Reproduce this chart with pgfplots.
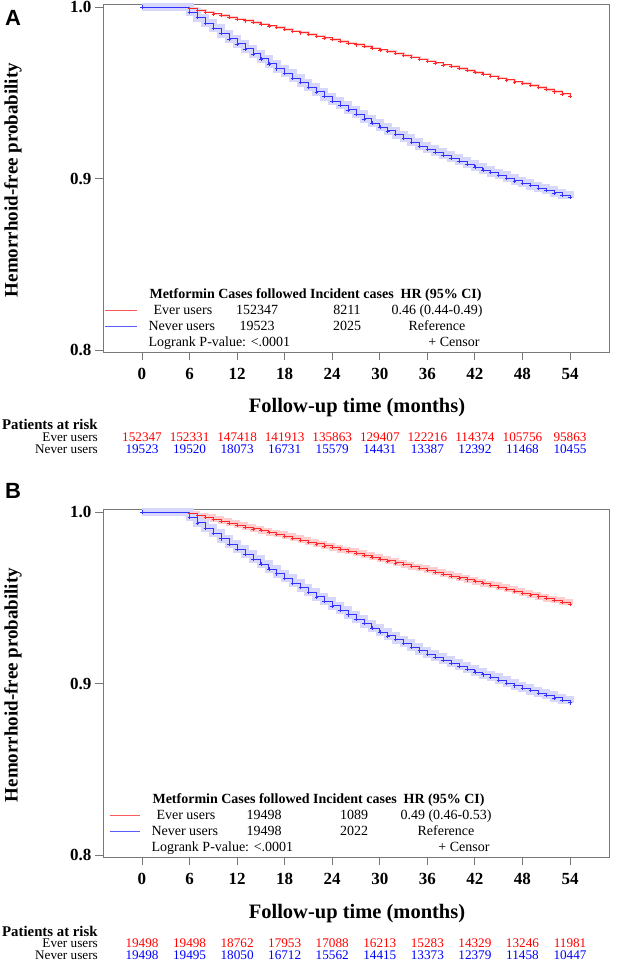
\documentclass[border=0pt]{standalone}
\usepackage{pgfplots}
\pgfplotsset{compat=1.18}
\usepackage{pgfplotstable}
\usepackage{fontspec}
\setmainfont{Liberation Serif}
\newfontfamily\arialfont{Liberation Sans}

\definecolor{kmred}{RGB}{255,40,40}
\definecolor{kmblue}{RGB}{50,50,255}
\definecolor{bandred}{RGB}{255,205,205}
\definecolor{bandblue}{RGB}{215,215,252}
\definecolor{legred}{RGB}{255,90,90}
\definecolor{legblue}{RGB}{90,90,255}
\definecolor{framegray}{RGB}{120,120,120}

\pgfplotstableread{
x y
0 1.0000
6 0.9990
7 0.9980
8 0.9970
9 0.9960
10 0.9950
11 0.9940
12 0.9930
13 0.9920
14 0.9910
15 0.9900
16 0.9890
17 0.9880
18 0.9870
19 0.9860
20 0.9850
21 0.9840
22 0.9830
23 0.9820
24 0.9810
25 0.9800
26 0.9790
27 0.9780
28 0.9770
29 0.9760
30 0.9750
31 0.9740
32 0.9729
33 0.9718
34 0.9707
35 0.9696
36 0.9685
37 0.9674
38 0.9663
39 0.9652
40 0.9641
41 0.9630
42 0.9619
43 0.9608
44 0.9597
45 0.9586
46 0.9575
47 0.9564
48 0.9553
49 0.9542
50 0.9530
51 0.9518
52 0.9506
53 0.9494
54 0.9482
}\redA

\pgfplotstableread{
x y
0 1.0000
6 0.9969
7 0.9938
8 0.9907
9 0.9876
10 0.9845
11 0.9814
12 0.9785
13 0.9756
14 0.9727
15 0.9698
16 0.9669
17 0.9640
18 0.9613
19 0.9586
20 0.9559
21 0.9532
22 0.9505
23 0.9478
24 0.9452
25 0.9426
26 0.9400
27 0.9374
28 0.9348
29 0.9322
30 0.9300
31 0.9278
32 0.9256
33 0.9234
34 0.9212
35 0.9190
36 0.9172
37 0.9154
38 0.9136
39 0.9118
40 0.9100
41 0.9082
42 0.9066
43 0.9050
44 0.9034
45 0.9018
46 0.9002
47 0.8986
48 0.8972
49 0.8958
50 0.8944
51 0.8930
52 0.8916
53 0.8902
54 0.8888
}\blueA

\pgfplotstableread{
x y
0 1.0000
6 0.9990
7 0.9979
8 0.9968
9 0.9957
10 0.9946
11 0.9935
12 0.9924
13 0.9913
14 0.9902
15 0.9891
16 0.9880
17 0.9869
18 0.9858
19 0.9847
20 0.9836
21 0.9825
22 0.9814
23 0.9803
24 0.9792
25 0.9781
26 0.9770
27 0.9759
28 0.9748
29 0.9737
30 0.9726
31 0.9715
32 0.9704
33 0.9693
34 0.9682
35 0.9671
36 0.9660
37 0.9649
38 0.9638
39 0.9627
40 0.9616
41 0.9605
42 0.9594
43 0.9583
44 0.9572
45 0.9561
46 0.9550
47 0.9539
48 0.9528
49 0.9517
50 0.9506
51 0.9495
52 0.9484
53 0.9473
54 0.9462
}\redB

\pgfplotstableread{
x y
0 1.0000
6 0.9968
7 0.9937
8 0.9906
9 0.9875
10 0.9844
11 0.9813
12 0.9784
13 0.9755
14 0.9726
15 0.9697
16 0.9668
17 0.9640
18 0.9613
19 0.9586
20 0.9559
21 0.9532
22 0.9505
23 0.9479
24 0.9453
25 0.9427
26 0.9401
27 0.9375
28 0.9349
29 0.9323
30 0.9300
31 0.9278
32 0.9256
33 0.9234
34 0.9212
35 0.9191
36 0.9172
37 0.9154
38 0.9136
39 0.9118
40 0.9100
41 0.9083
42 0.9067
43 0.9051
44 0.9035
45 0.9019
46 0.9003
47 0.8987
48 0.8972
49 0.8958
50 0.8944
51 0.8930
52 0.8916
53 0.8902
54 0.8888
}\blueB

\pgfplotsset{
  kmaxis/.style={
    scale only axis, width=506pt, height=348pt,
    xmin=-4.92, xmax=58.92, ymin=0.79883, ymax=1.00175,
    xtick={0,6,12,18,24,30,36,42,48,54},
    ytick={0.8,0.9,1.0}, yticklabels={0.8,0.9,1.0},
    tick align=outside, tick pos=left, major tick length=8pt,
    axis line style={draw=framegray, line width=0.9pt},
    tick style={draw=framegray, line width=0.9pt},
    ticklabel style={font=\fontsize{17}{17}\selectfont\bfseries},
    /pgf/number format/assume math mode=true,
    xticklabel style={yshift=-5pt},
  },
  kmline/.style={const plot, line width=0.8pt, mark=+, mark size=1.8pt, mark options={solid, line width=0.5pt}},
  kmband/.style={const plot, line cap=butt, line join=miter, no marks},
}

\newcommand{\lfont}{\fontsize{14}{14}\selectfont}
\newcommand{\rfont}{\fontsize{13.2}{13.2}\selectfont}

\begin{document}
\begin{tikzpicture}[x=1pt,y=1pt]
\useasboundingbox (0,0) rectangle (625,963);

% ---------------- Panel A ----------------
\begin{axis}[kmaxis, at={(103pt,611pt)}, anchor=south west]
\addplot[bandred, kmband, line width=2.5pt] table[x=x,y=y]{\redA};
\addplot[bandblue, kmband, line width=8pt] table[x=x,y=y]{\blueA};
\addplot[kmred, kmline] table[x=x,y=y]{\redA};
\addplot[kmblue, kmline] table[x=x,y=y]{\blueA};
\end{axis}

\node[font=\arialfont\bfseries\fontsize{22}{22}\selectfont] at (13,945) {A};
\node[rotate=90, font=\fontsize{19}{19}\selectfont\bfseries] at (13,783) {Hemorrhoid-free probability};
\node[font=\fontsize{20.5}{20.5}\selectfont\bfseries] at (357,555) {Follow-up time (months)};

% legend A
\draw[legred, line width=1pt] (105,652) -- (137,652);
\draw[legblue, line width=1pt] (105,636) -- (137,636);
\begin{scope}[font=\lfont]
\node[anchor=base west, font=\lfont\bfseries] at (146,664) {Metformin Cases followed Incident cases\ \ HR (95\% CI)};
\node[anchor=base west] at (150,648) {Ever users};
\node[anchor=base west] at (145,632) {Never users};
\node[anchor=base west] at (145,616) {Logrank P-value: <.0001};
\node[anchor=base] at (257,648) {152347};
\node[anchor=base] at (257,632) {19523};
\node[anchor=base] at (347,648) {8211};
\node[anchor=base] at (347,632) {2025};
\node[anchor=base] at (437,648) {0.46 (0.44-0.49)};
\node[anchor=base] at (437,632) {Reference};
\node[anchor=base east] at (483,616) {+ Censor};
\end{scope}

% at risk A
\begin{scope}[inner sep=0pt]
\node[anchor=base west, font=\fontsize{14.8}{14.8}\selectfont\bfseries] at (2,533) {Patients at risk};
\node[anchor=base east, font=\rfont] at (98,521) {Ever users};
\node[anchor=base east, font=\rfont] at (98,509.5) {Never users};
\foreach \xx/\nn in {0/152347,1/152331,2/147418,3/141913,4/135863,5/129407,6/122216,7/114374,8/105756,9/95863}
  \node[anchor=base, text=red, font=\rfont] at (142+47.56*\xx,521) {\nn};
\foreach \xx/\nn in {0/19523,1/19520,2/18073,3/16731,4/15579,5/14431,6/13387,7/12392,8/11468,9/10455}
  \node[anchor=base, text=blue, font=\rfont] at (142+47.56*\xx,509.5) {\nn};
\end{scope}

% ---------------- Panel B ----------------
\begin{axis}[kmaxis, at={(103pt,106pt)}, anchor=south west]
\addplot[bandred, kmband, line width=6pt] table[x=x,y=y]{\redB};
\addplot[bandblue, kmband, line width=8pt] table[x=x,y=y]{\blueB};
\addplot[kmred, kmline] table[x=x,y=y]{\redB};
\addplot[kmblue, kmline] table[x=x,y=y]{\blueB};
\end{axis}

\node[font=\arialfont\bfseries\fontsize{22}{22}\selectfont] at (13,472) {B};
\node[rotate=90, font=\fontsize{19}{19}\selectfont\bfseries] at (13,278) {Hemorrhoid-free probability};
\node[font=\fontsize{20.5}{20.5}\selectfont\bfseries] at (357,49) {Follow-up time (months)};

% legend B
\draw[legred, line width=1pt] (110,147) -- (140,147);
\draw[legblue, line width=1pt] (110,131) -- (140,131);
\begin{scope}[font=\lfont]
\node[anchor=base west, font=\lfont\bfseries] at (149,159) {Metformin Cases followed Incident cases\ \ HR (95\% CI)};
\node[anchor=base west] at (153,143) {Ever users};
\node[anchor=base west] at (148,127) {Never users};
\node[anchor=base west] at (148,111) {Logrank P-value: <.0001};
\node[anchor=base] at (264,143) {19498};
\node[anchor=base] at (264,127) {19498};
\node[anchor=base] at (354,143) {1089};
\node[anchor=base] at (354,127) {2022};
\node[anchor=base] at (446,143) {0.49 (0.46-0.53)};
\node[anchor=base] at (446,127) {Reference};
\node[anchor=base east] at (493,111) {+ Censor};
\end{scope}

% at risk B
\begin{scope}[inner sep=0pt]
\node[anchor=base west, font=\fontsize{14.8}{14.8}\selectfont\bfseries] at (2,27) {Patients at risk};
\node[anchor=base east, font=\rfont] at (98,15) {Ever users};
\node[anchor=base east, font=\rfont] at (98,3.5) {Never users};
\foreach \xx/\nn in {0/19498,1/19498,2/18762,3/17953,4/17088,5/16213,6/15283,7/14329,8/13246,9/11981}
  \node[anchor=base, text=red, font=\rfont] at (142+47.56*\xx,15) {\nn};
\foreach \xx/\nn in {0/19498,1/19495,2/18050,3/16712,4/15562,5/14415,6/13373,7/12379,8/11458,9/10447}
  \node[anchor=base, text=blue, font=\rfont] at (142+47.56*\xx,3.5) {\nn};
\end{scope}
\end{tikzpicture}
\end{document}
